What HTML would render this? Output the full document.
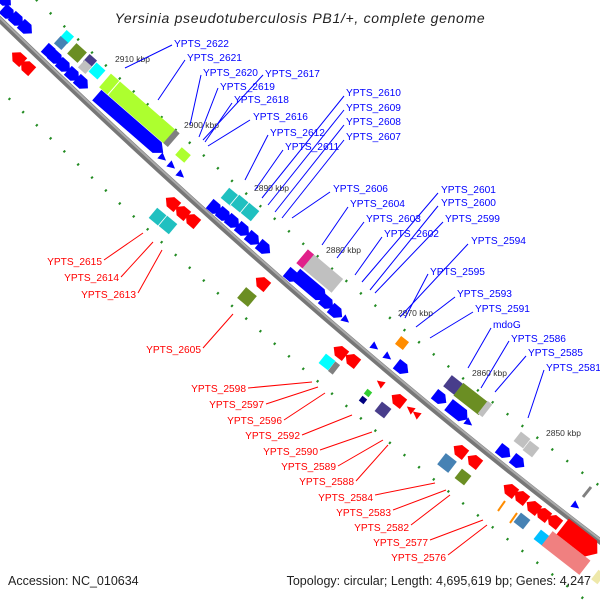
<!DOCTYPE html>
<html><head><meta charset="utf-8"><style>
html,body{margin:0;padding:0;background:#fff;width:600px;height:600px;overflow:hidden}
svg{display:block}
.b{fill:#0000ff;font-family:"Liberation Sans",sans-serif;font-size:10.2px}
.r{fill:#ff0000;font-family:"Liberation Sans",sans-serif;font-size:10.2px;text-anchor:end}
.k{fill:#333;font-family:"Liberation Sans",sans-serif;font-size:8.5px}
.bl line{stroke:#0000ff;stroke-width:1}
.rl line{stroke:#ff0000;stroke-width:1}
</style></head><body>
<svg width="600" height="600" viewBox="0 0 600 600" xmlns="http://www.w3.org/2000/svg">
<defs>
<polygon id="ba" points="-7,-6 2,-6 8,0 2,6 -7,6" fill="#0000ff"/>
<polygon id="ra" points="7,-6 -2,-6 -8,0 -2,6 7,6" fill="#ff0000"/>
<polygon id="rs" points="4,-4 -4,0 4,4" fill="#ff0000"/>
<polygon id="bs" points="-4,-4 4,0 -4,4" fill="#0000ff"/>
</defs>
<g fill="none" stroke="#228b22" stroke-width="2.5" stroke-dasharray="2 17">
<path d="M -5,15 Q 315,325 605,545" transform="translate(0,-55)"/>
<path d="M -5,15 Q 315,325 605,545" transform="translate(0,70)"/>
</g>
<path d="M -5,15 Q 315,325 605,545" fill="none" stroke="#777" stroke-width="6"/>
<path d="M -5,15 Q 315,325 605,545" fill="none" stroke="#aaa" stroke-width="2" transform="translate(0,-2)"/>
<text x="300" y="23" text-anchor="middle" font-family="Liberation Sans,sans-serif" font-style="italic" font-size="14" letter-spacing="0.7" fill="#222">Yersinia pseudotuberculosis PB1/+, complete genome</text>
<text x="8" y="585" font-family="Liberation Sans,sans-serif" font-size="12.5" fill="#222">Accession: NC_010634</text>
<text x="591" y="585" text-anchor="end" font-family="Liberation Sans,sans-serif" font-size="12.5" fill="#222">Topology: circular; Length: 4,695,619 bp; Genes: 4,247</text>

<use href="#ba" transform="translate(5,0) rotate(42)"/>
<use href="#ba" transform="translate(8,13) rotate(42)"/>
<use href="#ba" transform="translate(17,20) rotate(42)"/>
<use href="#ba" transform="translate(26,28) rotate(42)"/>
<use href="#ra" transform="translate(18,58) rotate(42)"/>
<use href="#ra" transform="translate(27,67) rotate(42)"/>
<rect x="-5" y="-5" width="10" height="10" fill="#00ffff" transform="translate(67,37) rotate(42)"/>
<rect x="-5" y="-5" width="10" height="10" fill="#4682b4" transform="translate(61,43) rotate(42)"/>
<use href="#ba" transform="translate(50,52) rotate(42)"/>
<use href="#ba" transform="translate(56,58) rotate(42)"/>
<use href="#ba" transform="translate(64,66) rotate(42)"/>
<use href="#ba" transform="translate(73,75) rotate(42)"/>
<use href="#ba" transform="translate(82,83) rotate(42)"/>
<rect x="-7" y="-7" width="14" height="14" fill="#6b8e23" transform="translate(77,53) rotate(42)"/>
<rect x="-5" y="-5" width="10" height="10" fill="#483d8b" transform="translate(90,61) rotate(42)"/>
<rect x="-5" y="-5" width="10" height="10" fill="#c0c0c0" transform="translate(85,67) rotate(42)"/>
<rect x="-6" y="-6" width="12" height="12" fill="#00ffff" transform="translate(97,71) rotate(42)"/>
<g transform="translate(139,110) rotate(41)"><rect x="-45" y="-9" width="90" height="18" fill="#adff2f"/><rect x="-34" y="-9" width="1" height="18" fill="#fff"/><rect x="40" y="-9" width="6" height="18" fill="#808080"/></g>
<polygon points="-44,-7 36,-7 44,0 36,7 -44,7" fill="#0000ff" transform="translate(130,124) rotate(41)"/>
<use href="#bs" transform="translate(163,158) rotate(41)"/>
<use href="#bs" transform="translate(172,166) rotate(41)"/>
<use href="#bs" transform="translate(181,175) rotate(41)"/>
<rect x="-6" y="-5" width="12" height="10" fill="#adff2f" transform="translate(183,155) rotate(41)"/>
<g fill="#20c0c0" stroke="#fff" stroke-width="0.8"><rect x="-7" y="-7" width="14" height="14" transform="translate(230,197) rotate(40)"/><rect x="-7" y="-7" width="14" height="14" transform="translate(240,204) rotate(40)"/><rect x="-7" y="-7" width="14" height="14" transform="translate(250,212) rotate(40)"/></g>
<use href="#ba" transform="translate(215,208) rotate(40)"/>
<use href="#ba" transform="translate(224,215) rotate(40)"/>
<use href="#ba" transform="translate(233,222) rotate(40)"/>
<use href="#ba" transform="translate(243,230) rotate(40)"/>
<use href="#ba" transform="translate(253,239) rotate(40)"/>
<use href="#ba" transform="translate(264,248) rotate(40)"/>
<use href="#ra" transform="translate(172,203) rotate(40)"/>
<use href="#ra" transform="translate(182,212) rotate(40)"/>
<use href="#ra" transform="translate(192,220) rotate(40)"/>
<rect x="-7" y="-7" width="14" height="14" fill="#20c0c0" stroke="#fff" stroke-width="0.8" transform="translate(158,217) rotate(40)"/>
<rect x="-7" y="-7" width="14" height="14" fill="#20c0c0" stroke="#fff" stroke-width="0.8" transform="translate(168,225) rotate(40)"/>
<g transform="translate(322,273) rotate(40)"><rect x="-20" y="-9" width="40" height="18" fill="#c0c0c0"/><rect x="-26" y="-9" width="8" height="18" fill="#e0208a"/></g>
<use href="#ba" transform="translate(292,276) rotate(40)"/>
<polygon points="-20,-7 12,-7 20,0 12,7 -20,7" fill="#0000ff" transform="translate(311,287) rotate(40)"/>
<use href="#ba" transform="translate(327,303) rotate(40)"/>
<use href="#ba" transform="translate(336,312) rotate(40)"/>
<use href="#bs" transform="translate(346,320) rotate(40)"/>
<use href="#ra" transform="translate(262,283) rotate(40)"/>
<rect x="-7" y="-7" width="14" height="14" fill="#6b8e23" transform="translate(247,297) rotate(40)"/>
<use href="#bs" transform="translate(375,347) rotate(38)"/>
<use href="#bs" transform="translate(388,357) rotate(38)"/>
<use href="#ba" transform="translate(402,368) rotate(38)"/>
<rect x="-5" y="-5" width="10" height="10" fill="#ff8c00" transform="translate(402,343) rotate(38)"/>
<rect x="-6" y="-6" width="12" height="12" fill="#00ffff" transform="translate(327,362) rotate(38)"/>
<rect x="-3" y="-6" width="6" height="12" fill="#808080" transform="translate(334,368) rotate(38)"/>
<use href="#ra" transform="translate(340,352) rotate(38)"/>
<use href="#ra" transform="translate(352,360) rotate(38)"/>
<use href="#rs" transform="translate(380,383) rotate(38)"/>
<rect x="-3" y="-3" width="6" height="6" fill="#32cd32" transform="translate(368,393) rotate(38)"/>
<rect x="-3" y="-3" width="6" height="6" fill="#000080" transform="translate(363,400) rotate(38)"/>
<rect x="-6" y="-6" width="12" height="12" fill="#483d8b" transform="translate(383,410) rotate(38)"/>
<use href="#ra" transform="translate(398,400) rotate(38)"/>
<use href="#rs" transform="translate(410,409) rotate(38)"/>
<use href="#rs" transform="translate(416,414) rotate(38)"/>
<rect x="-7" y="-7" width="14" height="14" fill="#483d8b" transform="translate(453,385) rotate(38)"/>
<rect x="-16" y="-8" width="32" height="16" fill="#6b8e23" transform="translate(471,399) rotate(38)"/>
<rect x="-3" y="-8" width="6" height="16" fill="#c0c0c0" transform="translate(485,409) rotate(38)"/>
<use href="#ba" transform="translate(440,398) rotate(38)"/>
<polygon points="-12,-7 6,-7 12,0 6,7 -12,7" fill="#0000ff" transform="translate(458,412) rotate(38)"/>
<use href="#bs" transform="translate(469,423) rotate(38)"/>
<rect x="-6" y="-6" width="12" height="12" fill="#c0c0c0" transform="translate(522,440) rotate(38)"/>
<rect x="-6" y="-6" width="12" height="12" fill="#c0c0c0" transform="translate(531,449) rotate(38)"/>
<use href="#ba" transform="translate(504,452) rotate(38)"/>
<use href="#ba" transform="translate(518,462) rotate(38)"/>
<rect x="-7" y="-7" width="14" height="14" fill="#4682b4" transform="translate(447,463) rotate(38)"/>
<use href="#ra" transform="translate(460,451) rotate(38)"/>
<use href="#ra" transform="translate(474,461) rotate(38)"/>
<rect x="-6" y="-6" width="12" height="12" fill="#6b8e23" transform="translate(463,477) rotate(38)"/>
<use href="#ra" transform="translate(510,490) rotate(38)"/>
<use href="#ra" transform="translate(521,497) rotate(38)"/>
<use href="#ra" transform="translate(533,507) rotate(38)"/>
<use href="#ra" transform="translate(543,514) rotate(38)"/>
<use href="#ra" transform="translate(554,521) rotate(38)"/>
<line x1="498" y1="511" x2="505" y2="501" stroke="#ff8c00" stroke-width="2"/>
<line x1="510" y1="523" x2="517" y2="513" stroke="#ff8c00" stroke-width="2"/>
<rect x="-6" y="-6" width="12" height="12" fill="#4682b4" transform="translate(522,521) rotate(38)"/>
<rect x="-6" y="-6" width="12" height="12" fill="#00bfff" transform="translate(542,538) rotate(38)"/>
<polygon points="-22,-10 14,-10 22,0 14,10 -22,10" fill="#ff0000" transform="translate(580,540) rotate(38)"/>
<rect x="-24" y="-9" width="48" height="18" fill="#f08080" transform="translate(566,553) rotate(38)"/>
<use href="#bs" transform="translate(576,506) rotate(38)"/>
<line x1="583" y1="497" x2="591" y2="487" stroke="#808080" stroke-width="3"/>
<rect x="-4" y="-6" width="8" height="12" fill="#eee8aa" transform="translate(598,577) rotate(38)"/>

<text class="k" x="115" y="62">2910 kbp</text>
<text class="k" x="184" y="128">2900 kbp</text>
<text class="k" x="254" y="191">2890 kbp</text>
<text class="k" x="326" y="253">2880 kbp</text>
<text class="k" x="398" y="316">2870 kbp</text>
<text class="k" x="472" y="376">2860 kbp</text>
<text class="k" x="546" y="436">2850 kbp</text>

<g class="bl">
<line x1="172" y1="45" x2="125" y2="68"/><line x1="185" y1="60" x2="158" y2="100"/>
<line x1="201" y1="75" x2="190" y2="125"/><line x1="263" y1="75" x2="203" y2="140"/>
<line x1="218" y1="88" x2="199" y2="137"/><line x1="232" y1="103" x2="205" y2="142"/>
<line x1="250" y1="120" x2="208" y2="146"/><line x1="268" y1="135" x2="245" y2="180"/>
<line x1="283" y1="150" x2="255" y2="190"/><line x1="344" y1="96" x2="262" y2="198"/>
<line x1="344" y1="110" x2="268" y2="205"/><line x1="344" y1="125" x2="275" y2="212"/>
<line x1="344" y1="140" x2="282" y2="218"/><line x1="330" y1="192" x2="292" y2="218"/>
<line x1="348" y1="207" x2="322" y2="245"/><line x1="364" y1="222" x2="337" y2="258"/>
<line x1="382" y1="237" x2="355" y2="275"/><line x1="438" y1="193" x2="362" y2="282"/>
<line x1="438" y1="206" x2="370" y2="290"/><line x1="443" y1="222" x2="375" y2="293"/>
<line x1="468" y1="244" x2="400" y2="317"/><line x1="428" y1="274" x2="405" y2="318"/>
<line x1="455" y1="297" x2="416" y2="327"/><line x1="473" y1="312" x2="430" y2="338"/>
<line x1="491" y1="328" x2="468" y2="368"/><line x1="509" y1="341" x2="481" y2="388"/>
<line x1="526" y1="356" x2="495" y2="392"/><line x1="544" y1="370" x2="528" y2="418"/>
</g>
<text class="b" x="174" y="47">YPTS_2622</text>
<text class="b" x="187" y="61">YPTS_2621</text>
<text class="b" x="203" y="76">YPTS_2620</text>
<text class="b" x="265" y="77">YPTS_2617</text>
<text class="b" x="220" y="90">YPTS_2619</text>
<text class="b" x="234" y="103">YPTS_2618</text>
<text class="b" x="253" y="120">YPTS_2616</text>
<text class="b" x="270" y="136">YPTS_2612</text>
<text class="b" x="285" y="150">YPTS_2611</text>
<text class="b" x="346" y="96">YPTS_2610</text>
<text class="b" x="346" y="111">YPTS_2609</text>
<text class="b" x="346" y="125">YPTS_2608</text>
<text class="b" x="346" y="140">YPTS_2607</text>
<text class="b" x="333" y="192">YPTS_2606</text>
<text class="b" x="350" y="207">YPTS_2604</text>
<text class="b" x="366" y="222">YPTS_2603</text>
<text class="b" x="384" y="237">YPTS_2602</text>
<text class="b" x="441" y="193">YPTS_2601</text>
<text class="b" x="441" y="206">YPTS_2600</text>
<text class="b" x="445" y="222">YPTS_2599</text>
<text class="b" x="471" y="244">YPTS_2594</text>
<text class="b" x="430" y="275">YPTS_2595</text>
<text class="b" x="457" y="297">YPTS_2593</text>
<text class="b" x="475" y="312">YPTS_2591</text>
<text class="b" x="493" y="328">mdoG</text>
<text class="b" x="511" y="342">YPTS_2586</text>
<text class="b" x="528" y="356">YPTS_2585</text>
<text class="b" x="546" y="371">YPTS_2581</text>

<g class="rl">
<line x1="104" y1="260" x2="143" y2="233"/><line x1="121" y1="277" x2="153" y2="242"/>
<line x1="138" y1="293" x2="162" y2="250"/><line x1="203" y1="348" x2="233" y2="314"/>
<line x1="248" y1="388" x2="312" y2="382"/><line x1="266" y1="404" x2="318" y2="387"/>
<line x1="284" y1="420" x2="325" y2="393"/><line x1="302" y1="435" x2="352" y2="415"/>
<line x1="320" y1="450" x2="372" y2="432"/><line x1="338" y1="466" x2="383" y2="440"/>
<line x1="356" y1="481" x2="388" y2="445"/><line x1="375" y1="495" x2="435" y2="483"/>
<line x1="393" y1="510" x2="446" y2="490"/><line x1="411" y1="525" x2="450" y2="495"/>
<line x1="430" y1="540" x2="483" y2="520"/><line x1="448" y1="555" x2="487" y2="525"/>
</g>
<text class="r" x="102" y="265">YPTS_2615</text>
<text class="r" x="119" y="281">YPTS_2614</text>
<text class="r" x="136" y="298">YPTS_2613</text>
<text class="r" x="201" y="353">YPTS_2605</text>
<text class="r" x="246" y="392">YPTS_2598</text>
<text class="r" x="264" y="408">YPTS_2597</text>
<text class="r" x="282" y="424">YPTS_2596</text>
<text class="r" x="300" y="439">YPTS_2592</text>
<text class="r" x="318" y="455">YPTS_2590</text>
<text class="r" x="336" y="470">YPTS_2589</text>
<text class="r" x="354" y="485">YPTS_2588</text>
<text class="r" x="373" y="501">YPTS_2584</text>
<text class="r" x="391" y="516">YPTS_2583</text>
<text class="r" x="409" y="531">YPTS_2582</text>
<text class="r" x="428" y="546">YPTS_2577</text>
<text class="r" x="446" y="561">YPTS_2576</text>
</svg>
</body></html>
